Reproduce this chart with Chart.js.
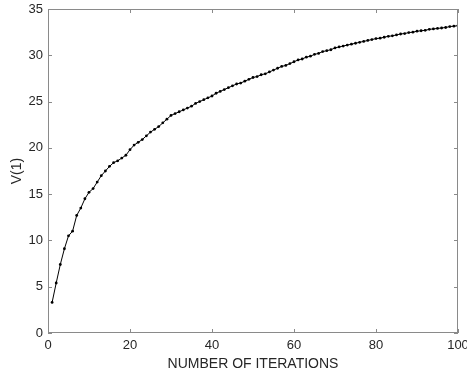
<!DOCTYPE html>
<html>
<head>
<meta charset="utf-8">
<script src="https://cdn.jsdelivr.net/npm/chart.js@4"></script>
<style>
  html, body { margin: 0; padding: 0; background: #fff; }
  #wrap { width: 467px; height: 376px; }
</style>
</head>
<body>
<div id="wrap"><canvas id="valueChart"></canvas></div>
<script>
// iteration number and V(1)
const iterations = Array.from({ length: 100 }, (_, i) => i + 1);
const v1 = [
    3.3, 5.4, 7.4, 9.1, 10.5, 11.0, 12.7, 13.5, 14.5, 15.2,
    15.6, 16.3, 17.0, 17.5, 18.0, 18.4, 18.6, 18.9, 19.2, 19.8,
    20.3, 20.6, 20.9, 21.3, 21.7, 22.0, 22.3, 22.7, 23.1, 23.5,
    23.7, 23.9, 24.1, 24.3, 24.5, 24.8, 25.0, 25.2, 25.4, 25.6,
    25.9, 26.1, 26.3, 26.5, 26.7, 26.9, 27.0, 27.2, 27.4, 27.6,
    27.7, 27.9, 28.0, 28.2, 28.4, 28.6, 28.8, 28.9, 29.1, 29.3,
    29.5, 29.6, 29.8, 29.9, 30.1, 30.2, 30.4, 30.5, 30.6, 30.8,
    30.9, 31.0, 31.1, 31.2, 31.3, 31.4, 31.5, 31.6, 31.7, 31.8,
    31.85, 31.95, 32.05, 32.1, 32.2, 32.3, 32.35, 32.45, 32.5, 32.6,
    32.65, 32.7, 32.8, 32.85, 32.9, 32.95, 33.0, 33.1, 33.15, 33.2
];
const xTicks = [0, 20, 40, 60, 80, 100];
const yTicks = [0, 5, 10, 15, 20, 25, 30, 35];

const axisColor = '#8a8a8a';
const textColor = '#262626';
const fontFamily = '"Liberation Sans", Arial, sans-serif';

// box around the plot with inward ticks on all four sides
const boxPlugin = {
    id: 'box',
    afterDraw(chart) {
        const { ctx, chartArea: a, scales } = chart;
        const len = 4;
        ctx.save();
        ctx.strokeStyle = axisColor;
        ctx.lineWidth = 1;
        ctx.strokeRect(a.left + 0.5, a.top + 0.5, a.right - a.left - 1, a.bottom - a.top - 1);
        ctx.beginPath();
        xTicks.forEach(t => {
            const px = Math.round(scales.x.getPixelForValue(t)) + 0.5;
            ctx.moveTo(px, a.bottom); ctx.lineTo(px, a.bottom - len);
            ctx.moveTo(px, a.top); ctx.lineTo(px, a.top + len);
        });
        yTicks.forEach(t => {
            const py = Math.round(scales.y.getPixelForValue(t)) + 0.5;
            ctx.moveTo(a.left, py); ctx.lineTo(a.left + len, py);
            ctx.moveTo(a.right, py); ctx.lineTo(a.right - len, py);
        });
        ctx.stroke();
        ctx.restore();
    }
};

const ctx = document.getElementById('valueChart').getContext('2d');
const valueChart = new Chart(ctx, {
    type: 'line',
    data: {
        datasets: [{
            data: iterations.map((x, i) => ({ x: x, y: v1[i] })),
            borderColor: '#000',
            borderWidth: 1,
            backgroundColor: '#000',
            pointRadius: 1.4,
            pointBorderWidth: 0,
            tension: 0,
            fill: false
        }]
    },
    options: {
        responsive: true,
        maintainAspectRatio: false,
        animation: false,
        layout: { padding: { left: 0, right: 9, top: 9, bottom: 0 } },
        plugins: {
            legend: { display: false },
            tooltip: { enabled: false }
        },
        scales: {
            x: {
                type: 'linear',
                min: 0, max: 100,
                afterFit: s => { s.height = 43; s.paddingLeft = 0; s.paddingRight = 0; },
                afterBuildTicks: s => { s.ticks = xTicks.map(v => ({ value: v })); },
                grid: { display: false, drawTicks: false },
                border: { display: false },
                ticks: { color: textColor, font: { family: fontFamily, size: 13 }, padding: 5, maxRotation: 0 },
                title: {
                    display: true, text: 'NUMBER OF ITERATIONS', color: textColor,
                    font: { family: fontFamily, size: 14 }, padding: { top: 0, bottom: 3 }
                }
            },
            y: {
                min: 0, max: 35,
                afterFit: s => { s.width = 48; s.paddingTop = 0; s.paddingBottom = 0; },
                afterBuildTicks: s => { s.ticks = yTicks.map(v => ({ value: v })); },
                grid: { display: false, drawTicks: false },
                border: { display: false },
                ticks: { color: textColor, font: { family: fontFamily, size: 13 }, padding: 5 },
                title: {
                    display: true, text: 'V(1)', color: textColor,
                    font: { family: fontFamily, size: 14 }, padding: { top: 9, bottom: 0 }
                }
            }
        }
    },
    plugins: [boxPlugin]
});
</script>
</body>
</html>
